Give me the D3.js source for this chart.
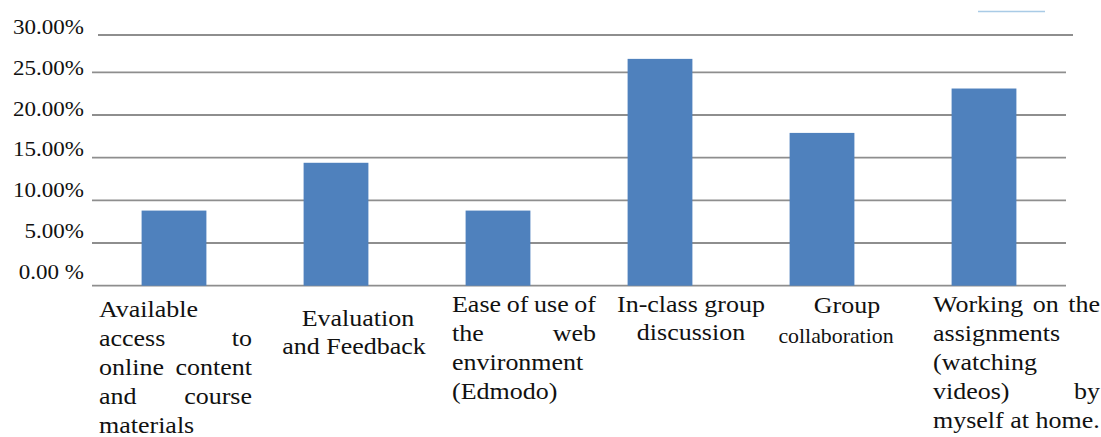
<!DOCTYPE html>
<html><head><meta charset="utf-8">
<script src="https://cdn.jsdelivr.net/npm/d3@7"></script>
<style>body{margin:0;background:#fff} svg{display:block} text{font-family:"Liberation Serif","Times New Roman",serif;fill:#111}</style>
</head><body>
<script>
const categories = ["Available access to online content and course materials", "Evaluation and Feedback", "Ease of use of the web environment (Edmodo)", "In-class group discussion", "Group collaboration", "Working on the assignments (watching videos) by myself at home."];
const values = [8.8, 14.4, 8.8, 26.8, 17.9, 23.1];
const tickValues = [0, 5, 10, 15, 20, 25, 30];
const tickLabels = ["0.00 %", "5.00%", "10.00%", "15.00%", "20.00%", "25.00%", "30.00%"];
const categoryLines = [
  ["Available", "access to", "online content", "and course", "materials"],
  ["Evaluation", "and Feedback"],
  ["Ease of use of", "the web", "environment", "(Edmodo)"],
  ["In-class group", "discussion"],
  ["Group", "collaboration"],
  ["Working on the", "assignments", "(watching", "videos) by", "myself at home."]
];

const W = 1101, H = 437;
const svg = d3.select("body").append("svg").attr("width", W).attr("height", H);

const x = d3.scaleBand().domain(categories).range([93, 1065]).paddingInner(0.6).paddingOuter(0.3);
const y = d3.scaleLinear().domain([0, 25, 30]).range([285.7, 72.3, 35]);
const yLab = d3.scaleLinear().domain([0, 30]).range([271.5, 27]);

// decorative legend remnant
svg.append("line").attr("x1", 978).attr("x2", 1045).attr("y1", 11.5).attr("y2", 11.5)
  .attr("stroke", "#a9cbe6").attr("stroke-width", 1.5);

// gridlines
svg.append("g").selectAll("line").data(tickValues).join("line")
  .attr("x1", d => d === 30 ? 98 : 92)
  .attr("x2", d => d === 30 ? 1073 : 1066)
  .attr("y1", d => y(d)).attr("y2", d => y(d))
  .attr("stroke", "#8e8e8e").attr("stroke-width", 1.8);

// bars
svg.append("g").selectAll("rect").data(values).join("rect")
  .attr("x", (d, i) => x(categories[i]))
  .attr("width", x.bandwidth())
  .attr("y", d => y(d))
  .attr("height", d => y(0) - y(d))
  .attr("fill", "#4f81bd");

// y tick labels
const TS = 20, TSX = 1.15;
svg.append("g").selectAll("text").data(tickValues).join("text")
  .attr("transform", (d) => `translate(84,${yLab(d)}) scale(${TSX},1)`)
  .attr("text-anchor", "end").attr("dy", "0.35em")
  .style("font-size", TS + "px")
  .text((d, i) => tickLabels[i]);

// category labels
const bw = x.bandwidth();
const cx = i => x(categories[i]) + bw / 2;
const layout = [
  {align: "justify", l: -75, r: 78, y0: 317, lh: 29},
  {align: "center", c: [22, 18], y0: 326, lh: 28},
  {align: "justify", l: -46, r: 98, y0: 312, lh: 29},
  {align: "center", c: [31, 31], y0: 312, lh: 28},
  {align: "center", c: [25, 14], y0: 313, lh: 30, small: 1},
  {align: "justify", l: -51, r: 116, y0: 312, lh: 29}
];
const CS = 23, CSX = 1.13;
const lab = svg.append("g");
function word(str, xp, yp, anchor, size, sx) {
  return lab.append("text")
    .attr("transform", `translate(${xp},${yp}) scale(${sx},1)`)
    .attr("text-anchor", anchor).style("font-size", size + "px").text(str);
}
categoryLines.forEach((lines, i) => {
  const L = layout[i], c = cx(i);
  lines.forEach((line, j) => {
    const yp = L.y0 + j * L.lh;
    if (L.align === "center") {
      const small = L.small && j === 1;
      word(line, c + L.c[j], yp, "middle", small ? 21 : CS, small ? 1.04 : CSX);
    } else {
      const left = c + L.l, right = c + L.r;
      const words = line.split(" ");
      const last = j === lines.length - 1;
      if (last || words.length === 1) {
        word(line, left, yp, "start", CS, CSX);
      } else {
        const nodes = words.map(w => word(w, 0, yp, "start", CS, CSX));
        const widths = nodes.map(n => n.node().getComputedTextLength() * CSX);
        const gap = (right - left - d3.sum(widths)) / (words.length - 1);
        let xp = left;
        nodes.forEach((n, k) => {
          n.attr("transform", `translate(${xp},${yp}) scale(${CSX},1)`);
          xp += widths[k] + gap;
        });
      }
    }
  });
});
</script>
</body></html>
